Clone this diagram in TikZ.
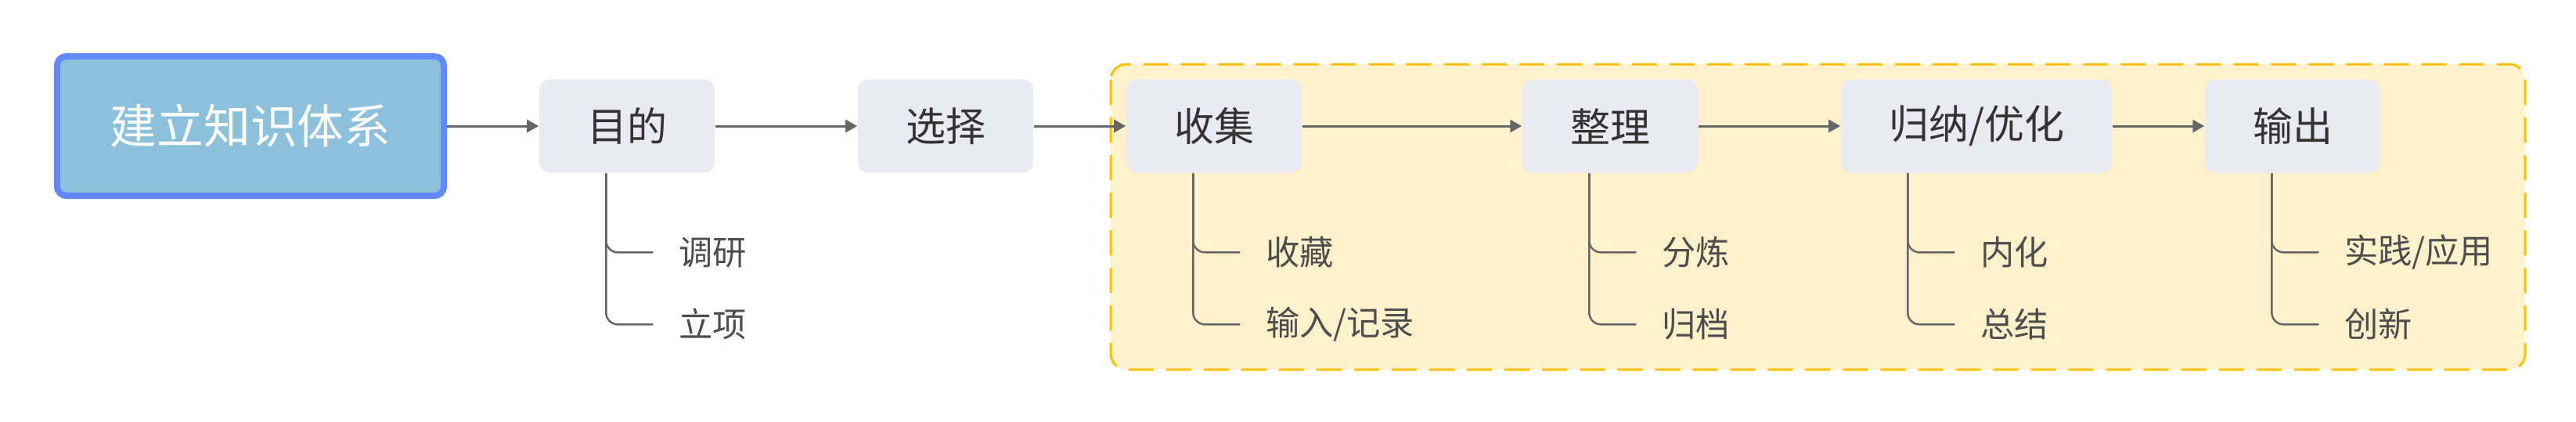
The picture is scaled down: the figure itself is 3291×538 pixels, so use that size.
\documentclass[tikz,border=0pt]{standalone}
\usepackage{fontspec}
\setmainfont{Noto Sans CJK SC}
\usetikzlibrary{arrows.meta, positioning}

\definecolor{rootFill}{HTML}{8DC0DB}
\definecolor{rootLine}{HTML}{6289FC}
\definecolor{boxFill}{HTML}{EAEAF2}
\definecolor{lineGray}{HTML}{666666}
\definecolor{textDark}{HTML}{333333}
\definecolor{textGray}{HTML}{4D4D4D}
\definecolor{areaFill}{HTML}{FFF1CC}
\definecolor{areaLine}{HTML}{FFC000}

\tikzset{
  rootbox/.style={draw=rootLine, line width=0.08cm, fill=rootFill, rounded corners=0.12cm,
    minimum width=4.94cm, minimum height=1.78cm, text=white, font=\fontsize{17}{20}\selectfont},
  stagebox/.style={fill=boxFill, rounded corners=0.13cm, inner sep=0pt,
    minimum width=2.24cm, minimum height=1.19cm, text=textDark, font=\fontsize{14.5}{17}\selectfont},
  leafnode/.style={anchor=west, inner xsep=0.32cm, inner ysep=0pt, text=textGray,
    font=\fontsize{12.3}{15}\selectfont},
  flowarrow/.style={draw=lineGray, line width=0.03cm, -{Triangle[length=0.15cm, width=0.16cm]}},
  branchline/.style={draw=lineGray, line width=0.025cm, rounded corners=0.15cm},
}

\begin{document}
\begin{tikzpicture}[x=0.01cm, y=-0.01cm]
\useasboundingbox (0,0) rectangle (3291,538);

%黃色虛線框
\draw[areaLine, fill=areaFill, line width=0.03cm, dash pattern=on 0.32cm off 0.16cm,
  rounded corners=0.2cm] (1419,82) rectangle (3226,472);

%主幹節點
\node[rootbox] (nRoot) at (320,161) {建立知识体系};
\node[stagebox] (nMudi) at (801,161) {目的};
\node[stagebox] (nXuanze) at (1208,161) {选择};
\node[stagebox] (nShouji) at (1551,161) {收集};
\node[stagebox] (nZhengli) at (2057,161) {整理};
\node[stagebox, minimum width=3.46cm] (nGuina) at (2525,161) {归纳/优化};
\node[stagebox] (nShuchu) at (2929,161) {输出};

\draw[flowarrow] (nRoot) -- (nMudi);
\draw[flowarrow] (nMudi) -- (nXuanze);
\draw[flowarrow] (nXuanze) -- (nShouji);
\draw[flowarrow] (nShouji) -- (nZhengli);
\draw[flowarrow] (nZhengli) -- (nGuina);
\draw[flowarrow] (nGuina) -- (nShuchu);

%分支
\foreach \p/\ca/\cb in {nMudi/调研/立项, nShouji/收藏/{输入/记录}, nZhengli/分炼/归档,
  nGuina/内化/总结, nShuchu/{实践/应用}/创新}
{
    \node[leafnode] (\p A) at ([xshift=1.46cm, yshift=-1.01cm]\p.south west) {\ca};
    \node[leafnode] (\p B) at ([xshift=1.46cm, yshift=-1.93cm]\p.south west) {\cb};
    \draw[branchline] ([xshift=0.86cm]\p.south west) |- (\p A.west);
    \draw[branchline] ([xshift=0.86cm]\p.south west) |- (\p B.west);
}

\end{tikzpicture}
\end{document}
